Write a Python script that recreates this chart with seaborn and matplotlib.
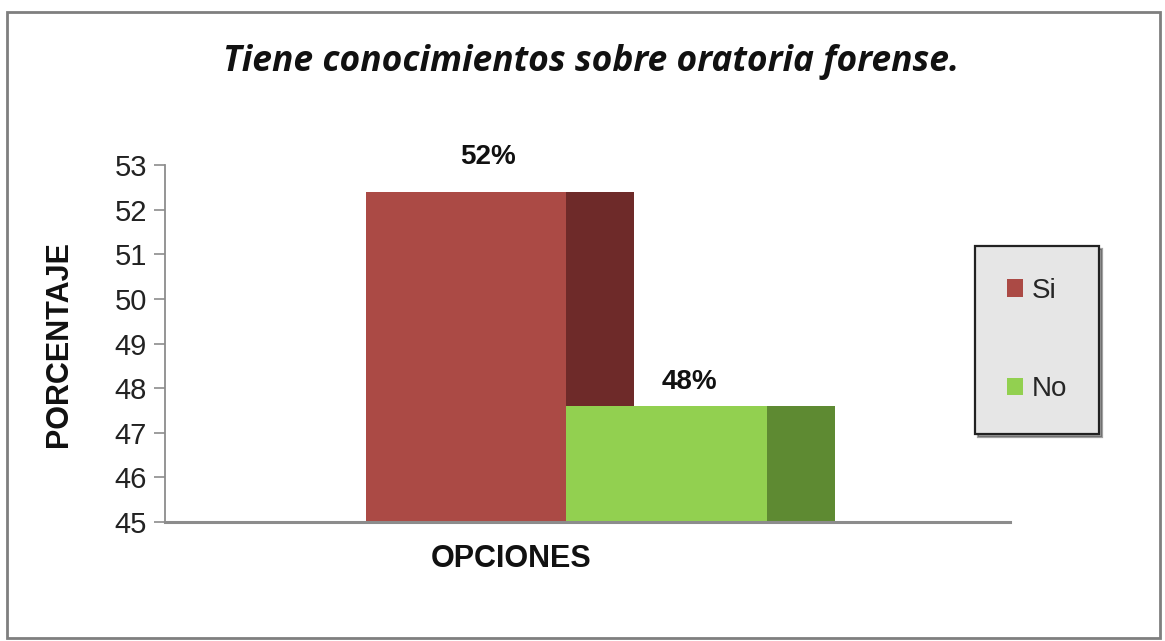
import matplotlib

matplotlib.use("Agg")
import matplotlib.pyplot as plt
import numpy as np
import pandas as pd
import seaborn as sns
from matplotlib.patches import Rectangle

# data
category = ["OPCIONES"]
options = ["Si", "No"]
percent = [52.4, 47.6]
front_colors = ["#AB4A45", "#92D050"]
side_colors = ["#6E2A29", "#5E8A32"]

df = pd.DataFrame({"grupo": category * len(options), "opcion": options, "porcentaje": percent})

sns.set_theme(style="white")
plt.rcParams["font.family"] = ["Liberation Sans", "DejaVu Sans"]

fig = plt.figure(figsize=(11.65, 6.41), dpi=100)
ax = fig.add_axes([0.1416, 0.1856, 0.725, 0.557])

sns.barplot(
    data=df, x="grupo", y="porcentaje", hue="opcion",
    palette=dict(zip(options, front_colors)), width=0.8,
    saturation=1, ax=ax, legend=True, zorder=2, linewidth=0,
)

# darker side faces to mimic the 3D depth, plus the % labels
depth = 0.135
label_offsets = [25, 17]
for bar_container, color, off in zip(ax.containers, side_colors, label_offsets):
    for patch in bar_container.patches:
        ax.bar(patch.get_x() + patch.get_width(), patch.get_height(), width=depth,
               align="edge", color=color, linewidth=0, zorder=1)
        val = patch.get_height()
        ax.annotate(f"{val:.0f}%", (patch.get_x() + patch.get_width() / 2 + 0.045, val),
                    xytext=(0, off), textcoords="offset points", ha="center", va="center",
                    fontsize=20, fontweight="bold", color="#111111")

ax.set_xlim(-0.8, 0.884)
ax.set_ylim(45, 53)
ax.set_yticks(np.arange(45, 54, 1))
ax.tick_params(axis="y", labelsize=21, labelcolor="#222222", color="#8C8C8C",
               length=8, width=1.2, direction="out", left=True, pad=5)
ax.set_xticks([])
ax.set_xlabel("OPCIONES", fontsize=22, fontweight="bold", color="#111111")
ax.xaxis.set_label_coords(0.41, -0.062)
ax.set_ylabel("PORCENTAJE", fontsize=22, fontweight="bold", color="#111111")
ax.yaxis.set_label_coords(-0.108, 0.5)

for side in ["top", "right"]:
    ax.spines[side].set_visible(False)
ax.spines["left"].set_color("#8C8C8C")
ax.spines["left"].set_linewidth(1.3)
ax.spines["bottom"].set_color("#8C8C8C")
ax.spines["bottom"].set_linewidth(2.2)

leg = ax.legend(
    loc="center", bbox_to_anchor=(1037 / 1165, 1 - 340 / 641), bbox_transform=fig.transFigure,
    fontsize=20, frameon=True, fancybox=False, shadow=True, handlelength=0.6,
    handleheight=0.6, handletextpad=0.3, labelspacing=2.6, borderpad=1.15,
)
leg.get_frame().set_facecolor("#E6E6E6")
leg.get_frame().set_edgecolor("#222222")
leg.get_frame().set_linewidth(1.6)

fig.text(591 / 1165, 1 - 62 / 641, "Tiene conocimientos sobre oratoria forense.",
         ha="center", va="center", fontsize=25.5, fontweight="bold", fontstyle="italic",
         family=["Open Sans", "DejaVu Sans"], color="#111111")

# outer chart frame
fig.patches.append(Rectangle((7 / 1165, 3 / 641), 1153 / 1165, 626 / 641,
                             transform=fig.transFigure, fill=False,
                             edgecolor="#7F7F7F", linewidth=2))

fig.savefig("out.png", dpi=100)
